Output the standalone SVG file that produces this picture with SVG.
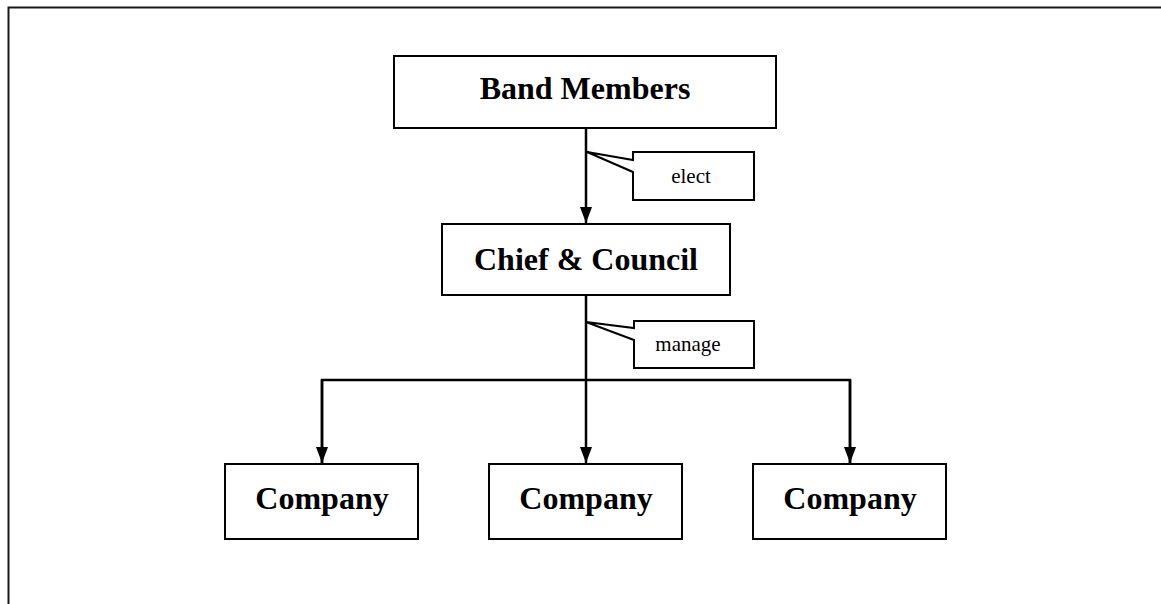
<svg xmlns="http://www.w3.org/2000/svg" width="1161" height="604" viewBox="0 0 1161 604">
  <style>
    .box { fill: #ffffff; stroke: #000000; stroke-width: 2; }
    .title { font-family: "Liberation Serif", "Times New Roman", serif; font-weight: bold; font-size: 32px; text-anchor: middle; fill: #000000; }
    .note { font-family: "Liberation Serif", "Times New Roman", serif; font-size: 21px; text-anchor: middle; fill: #000000; }
    .link { fill: none; stroke: #000000; stroke-width: 2.5; }
    .callout { fill: #ffffff; stroke: #000000; stroke-width: 2; stroke-linejoin: miter; }
  </style>
  <defs>
    <marker id="arrow" viewBox="0 0 16 12" refX="16" refY="6" markerWidth="16" markerHeight="12" markerUnits="userSpaceOnUse" orient="auto">
      <path d="M0,0 L16,6 L0,12 Z" fill="#000000"/>
    </marker>
  </defs>

  <rect width="1161" height="604" fill="#ffffff"/>
  <!-- page frame -->
  <path d="M8.5,620 L8.5,7.5 L1170,7.5" fill="none" stroke="#1a1a1a" stroke-width="2"/>

  <!-- connectors -->
  <g id="connectors">
    <line class="link" x1="586" y1="128" x2="586" y2="223" marker-end="url(#arrow)"/>
    <line class="link" x1="586" y1="295" x2="586" y2="463" marker-end="url(#arrow)"/>
    <polyline class="link" points="322,463 322,380 850,380 850,463"/>
    <line class="link" x1="322" y1="380" x2="322" y2="463" marker-end="url(#arrow)"/>
    <line class="link" x1="850" y1="380" x2="850" y2="463" marker-end="url(#arrow)"/>
  </g>

  <!-- callouts -->
  <g id="label-elect">
    <polygon class="callout" points="633,152 754,152 754,200 633,200 633,172 587,152 633,160"/>
    <text class="note" x="691" y="183">elect</text>
  </g>
  <g id="label-manage">
    <polygon class="callout" points="634,321 754,321 754,368 634,368 634,340 586,322 634,328"/>
    <text class="note" x="688" y="351">manage</text>
  </g>

  <!-- nodes -->
  <g id="band-members">
    <rect class="box" x="394" y="56" width="382" height="72"/>
    <text class="title" x="585" y="99">Band Members</text>
  </g>
  <g id="chief-council">
    <rect class="box" x="442" y="224" width="288" height="71"/>
    <text class="title" x="586" y="270">Chief &amp; Council</text>
  </g>
  <g id="company-1">
    <rect class="box" x="225" y="464" width="193" height="75"/>
    <text class="title" x="322" y="509">Company</text>
  </g>
  <g id="company-2">
    <rect class="box" x="489" y="464" width="193" height="75"/>
    <text class="title" x="586" y="509">Company</text>
  </g>
  <g id="company-3">
    <rect class="box" x="753" y="464" width="193" height="75"/>
    <text class="title" x="850" y="509">Company</text>
  </g>
</svg>
